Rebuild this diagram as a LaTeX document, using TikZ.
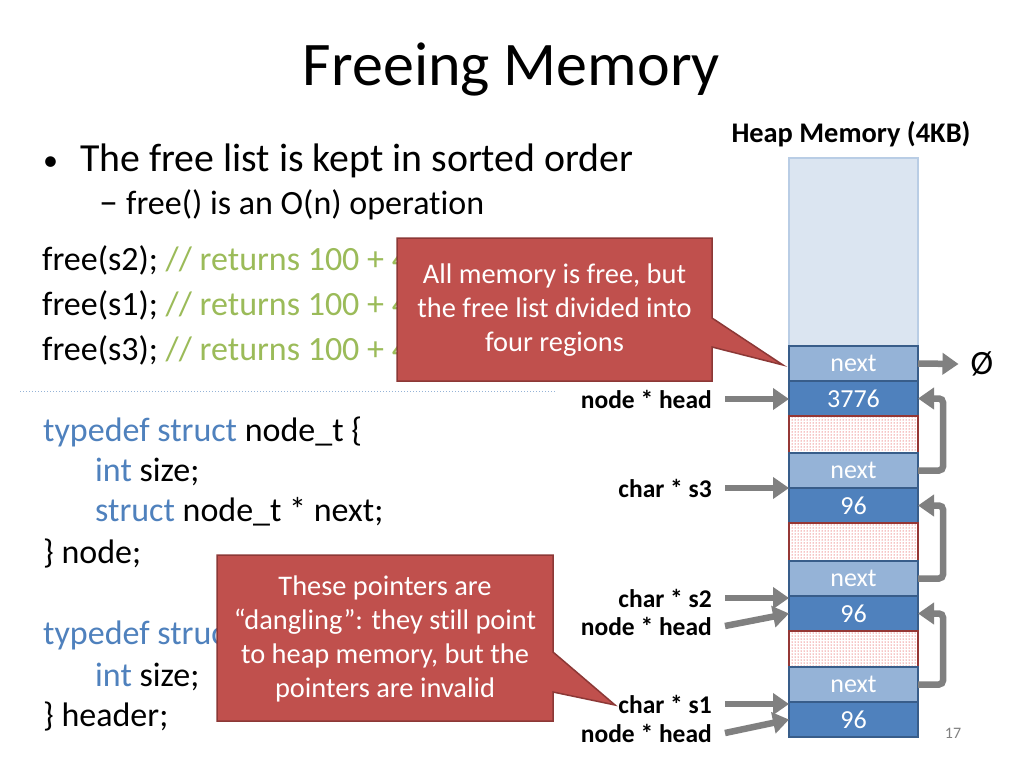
\documentclass[tikz,border=0pt]{standalone}
\usepackage{fontspec}
\setmainfont[Ligatures=NoCommon]{Carlito}
\usetikzlibrary{arrows.meta,positioning,patterns}

\definecolor{codegreen}{HTML}{9BBB59}
\definecolor{codeblue}{HTML}{4F81BD}
\definecolor{freeblue}{HTML}{DBE5F1}
\definecolor{freeedge}{HTML}{B9CDE5}
\definecolor{nextblue}{HTML}{95B3D7}
\definecolor{sizeblue}{HTML}{4F81BD}
\definecolor{celledge}{HTML}{385D8A}
\definecolor{usededge}{HTML}{953735}
\definecolor{ptrgray}{HTML}{808080}
\definecolor{notefill}{HTML}{C0504D}
\definecolor{noteedge}{HTML}{8C3836}

\tikzset{
  cell/.style={minimum width=129pt, minimum height=35pt, inner sep=0pt, outer sep=0pt,
    line width=1.5pt, text=white, font=\fontsize{26}{28}\selectfont},
  freecell/.style={cell, fill=freeblue, draw=freeedge},
  nextcell/.style={cell, fill=nextblue, draw=celledge},
  sizecell/.style={cell, fill=sizeblue, draw=celledge},
  usedcell/.style={cell, minimum height=37pt, draw=usededge, pattern=dots, pattern color=red!85!black},
  ptr/.style={draw=ptrgray, line width=6.5pt, -{Triangle[length=16pt,width=21pt]}},
  link/.style={ptr, rounded corners=4pt},
  lbl/.style={anchor=east, inner sep=0pt, font=\bfseries\fontsize{25.5}{27}\selectfont},
  code/.style={anchor=base west, inner sep=0pt, font=\fontsize{34}{38}\selectfont},
  note/.style={fill=notefill, draw=noteedge, line width=1.5pt},
  notetext/.style={align=center, text=white, font=\fontsize{28.4}{34}\selectfont}
}

\begin{document}
\begin{tikzpicture}[x=1pt,y=-1pt]
\useasboundingbox[fill=white] (0,0) rectangle (1024,768);

% title and bullets
\node[anchor=base, inner sep=0pt, font=\fontsize{62}{62}\selectfont] (title) at (511.5,85) {Freeing Memory};
\node[anchor=base west, inner sep=0pt, font=\fontsize{30}{36}\selectfont] (b1) at (43,170) {\textbullet};
\node[anchor=base west, inner sep=0pt, font=\fontsize{39.8}{44}\selectfont] (b1text) at (80,171) {The free list is kept in sorted order};
\node[anchor=base west, inner sep=0pt, font=\fontsize{38}{38}\selectfont] (b2) at (99,214) {\textendash};
\node[anchor=base west, inner sep=0pt, font=\fontsize{34}{38}\selectfont] (b2text) at (126,214) {free() is an O(n) operation};

% code
\node[code] (f1) at (42,270) {free(s2); \textcolor{codegreen}{// returns 100 + 4}};
\node[code] (f2) at (42,315) {free(s1); \textcolor{codegreen}{// returns 100 + 4}};
\node[code] (f3) at (42,360) {free(s3); \textcolor{codegreen}{// returns 100 + 4}};
\draw[nextblue, dotted, line width=1pt] (20,391) -- (555,391);

\node[code] (t1) at (43,441) {\textcolor{codeblue}{typedef struct} node\_t \{};
\node[code] (t2) at (95,481) {\textcolor{codeblue}{int} size;};
\node[code] (t3) at (95,521) {\textcolor{codeblue}{struct} node\_t * next;};
\node[code] (t4) at (43,563) {\} node;};
\node[code] (t5) at (43,644) {\textcolor{codeblue}{typedef struct}};
\node[code] (t6) at (95,686) {\textcolor{codeblue}{int} size;};
\node[code] (t7) at (43,726) {\} header;};

% heap
\node[anchor=base, inner sep=0pt, font=\bfseries\fontsize{28.4}{30}\selectfont] (heap) at (851,142) {Heap Memory (4KB)};
\node[freecell, minimum height=188pt, anchor=north] (free) at (853.5,158) {};
\node[nextcell, below=0pt of free] (next1) {next};
\node[sizecell, below=0pt of next1] (size1) {3776};
\node[usedcell, below=0pt of size1] (used1) {};
\node[nextcell, below=0pt of used1] (next2) {next};
\node[sizecell, below=0pt of next2] (size2) {96};
\node[usedcell, minimum height=38pt, below=0pt of size2] (used2) {};
\node[nextcell, below=0pt of used2] (next3) {next};
\node[sizecell, below=0pt of next3] (size3) {96};
\node[usedcell, minimum height=36pt, below=0pt of size3] (used3) {};
\node[nextcell, below=0pt of used3] (next4) {next};
\node[sizecell, below=0pt of next4] (size4) {96};

\node[font=\fontsize{34}{34}\selectfont, inner sep=0pt] (nul) at (982,364) {Ø};
\draw[ptr] (next1.east) -- ([xshift=-12pt]nul.west);
\draw[link] (next2.east) -- ++(25,0) |- (size1.east);
\draw[link] (next3.east) -- ++(25,0) |- (size2.east);
\draw[link] (next4.east) -- ++(25,0) |- (size3.east);

% pointers
\node[lbl] (head1) at (712,399) {node * head};
\node[lbl] (s3) at (712,488) {char * s3};
\node[lbl] (s2) at (712,598) {char * s2};
\node[lbl] (head2) at (712,626) {node * head};
\node[lbl] (s1) at (712,704) {char * s1};
\node[lbl] (head3) at (712,733) {node * head};
\draw[ptr] ([xshift=13pt]head1.east) -- (head1.east -| size1.west);
\draw[ptr] ([xshift=13pt]s3.east) -- (s3.east -| size2.west);
\draw[ptr] ([xshift=13pt]s2.east) -- (s2.east -| size3.west);
\draw[ptr] ([xshift=13pt]head2.east) -- (size3.west);
\draw[ptr] ([xshift=13pt]s1.east) -- (s1.east -| size4.west);
\draw[ptr] ([xshift=13pt]head3.east) -- (size4.west);

% callouts
\draw[note] (397,238) -- (712,238) -- (712,318) -- (783,365) -- (712,347) -- (712,381) -- (397,381) -- cycle;
\node[notetext] (note1) at (554.5,310) {All memory is free, but\\the free list divided into\\four regions};
\draw[note] (217,555) -- (553,555) -- (553,652) -- (615,705) -- (553,692) -- (553,721) -- (217,721) -- cycle;
\node[notetext] (note2) at (385,639) {These pointers are\\“dangling”: they still point\\to heap memory, but the\\pointers are invalid};

\node[text=gray, font=\fontsize{16}{18}\selectfont] (page) at (953,733) {17};
\end{tikzpicture}
\end{document}
